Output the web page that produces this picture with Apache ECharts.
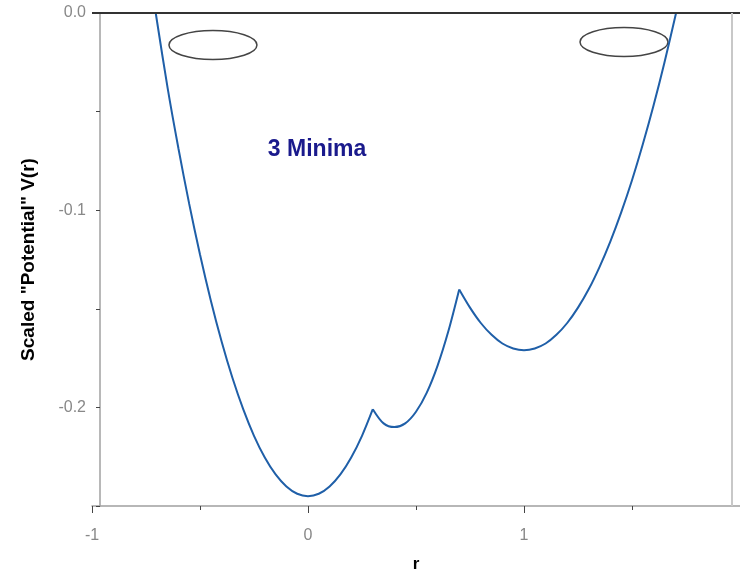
<!DOCTYPE html>
<html>
<head>
<meta charset="utf-8">
<title>3 Minima</title>
<script src="https://cdn.jsdelivr.net/npm/echarts@6/dist/echarts.min.js"></script>
<style>
  html, body { margin: 0; padding: 0; background: #fff; }
  #chart { width: 740px; height: 570px; }
</style>
</head>
<body>
<div id="chart"></div>
<script>
// r and V(r)
var rValues = [-0.705, -0.65, -0.6, -0.55, -0.5, -0.45, -0.4, -0.35, -0.3, -0.25, -0.2, -0.15, -0.1, -0.05, 0,
    0.05, 0.1, 0.15, 0.2, 0.25, 0.3,
    0.35, 0.4, 0.45, 0.5, 0.55, 0.6, 0.65, 0.7,
    0.75, 0.8, 0.85, 0.9, 0.95, 1.0, 1.05, 1.1, 1.15, 1.2, 1.25, 1.3, 1.35, 1.4, 1.45, 1.5, 1.55, 1.6, 1.65, 1.704];
var vValues = [0, -0.0380, -0.0686, -0.0968, -0.1225, -0.1458, -0.1666, -0.1850, -0.2009, -0.2144, -0.2254, -0.2340, -0.2401, -0.2438, -0.2450,
    -0.2438, -0.2401, -0.2340, -0.2254, -0.2144, -0.2009,
    -0.2081, -0.2100, -0.2081, -0.2022, -0.1925, -0.1788, -0.1613, -0.1402,
    -0.1494, -0.1572, -0.1632, -0.1676, -0.1701, -0.1710, -0.1701, -0.1676, -0.1632, -0.1572, -0.1494, -0.1400, -0.1287, -0.1158, -0.1011, -0.0848, -0.0666, -0.0468, -0.0252, 0];
// the two kinks in the curve
var cusps = [0.3, 0.7];

var xTickLabels = [-1, 0, 1];
var yTickLabels = [0, -0.1, -0.2];

// the two rings and the text, placed in data units
var rings = [[-0.44, -0.0162], [1.463, -0.0147]];
var noteText = '3 Minima';
var notePos = [0.042, -0.0695];
var frameRight = 1.963;

var points = rValues.map(function (r, i) { return [r, vValues[i]]; });

// cut the curve at the kinks so smoothing does not round them off
var bounds = [-Infinity].concat(cusps, [Infinity]);
var pieces = [];
for (var k = 0; k < bounds.length - 1; k++) {
    pieces.push(points.filter(function (p) { return p[0] >= bounds[k] && p[0] <= bounds[k + 1]; }));
}

var lineColor = '#1f5fa8';
var series = pieces.map(function (d) {
    return {
        type: 'line',
        data: d,
        showSymbol: false,
        smooth: 0.3,
        clip: false,
        lineStyle: { color: lineColor, width: 2 }
    };
});
series[0].markLine = {
    silent: true,
    symbol: ['none', 'none'],
    label: { show: false },
    data: [
        { yAxis: 0, lineStyle: { color: '#333', width: 2, type: 'solid' } },
        { xAxis: frameRight, lineStyle: { color: '#c8c8c8', width: 2, type: 'solid' } }
    ]
};

var myChart = echarts.init(document.getElementById('chart'));

var option = {
    animation: false,
    grid: { left: 92, right: 0, top: 13, bottom: 64, outerBoundsMode: 'none', containLabel: false },
    xAxis: {
        type: 'value',
        min: -1,
        max: 2,
        interval: 1,
        name: 'r',
        nameLocation: 'middle',
        nameGap: 50,
        nameTextStyle: { fontFamily: 'Liberation Sans', fontWeight: 'bold', fontSize: 17, color: '#000' },
        axisLine: { onZero: false, lineStyle: { color: '#a0a0a0', width: 1.5 } },
        axisTick: { length: 7, lineStyle: { color: '#444' } },
        minorTick: { show: true, splitNumber: 2, length: 4, lineStyle: { color: '#444' } },
        splitLine: { show: false },
        axisLabel: {
            margin: 22,
            fontFamily: 'Liberation Sans',
            fontSize: 16,
            color: '#888',
            formatter: function (v) {
                return xTickLabels.indexOf(v) >= 0 ? String(v) : '';
            }
        }
    },
    yAxis: {
        type: 'value',
        min: -0.25,
        max: 0,
        interval: 0.05,
        offset: -8,
        name: 'Scaled "Potential" V(r)',
        nameLocation: 'middle',
        nameGap: 62,
        nameTextStyle: { fontFamily: 'Liberation Sans', fontWeight: 'bold', fontSize: 19, color: '#000' },
        axisLine: { show: true, onZero: false, lineStyle: { color: '#a0a0a0', width: 1.5 } },
        axisTick: { show: true, length: 4, lineStyle: { color: '#444' } },
        splitLine: { show: false },
        axisLabel: {
            margin: 14,
            fontFamily: 'Liberation Sans',
            fontSize: 16,
            color: '#888',
            formatter: function (v) {
                for (var i = 0; i < yTickLabels.length; i++) {
                    if (Math.abs(v - yTickLabels[i]) < 1e-6) return yTickLabels[i].toFixed(1);
                }
                return '';
            }
        }
    },
    series: series
};

myChart.setOption(option);

// rings + note need pixel positions, so add them after the axes exist
var graphics = rings.map(function (c) {
    var p = myChart.convertToPixel({ gridIndex: 0 }, c);
    return {
        type: 'ellipse',
        shape: { cx: p[0], cy: p[1], rx: 44, ry: 14.5 },
        style: { fill: 'none', stroke: '#444', lineWidth: 1.5 },
        silent: true
    };
});
var np = myChart.convertToPixel({ gridIndex: 0 }, notePos);
graphics.push({
    type: 'text',
    x: np[0],
    y: np[1],
    style: {
        text: noteText,
        fill: '#1a1a8c',
        font: 'bold 23px "Liberation Sans"',
        align: 'center',
        verticalAlign: 'middle'
    },
    silent: true
});
myChart.setOption({ graphic: graphics });
</script>
</body>
</html>
